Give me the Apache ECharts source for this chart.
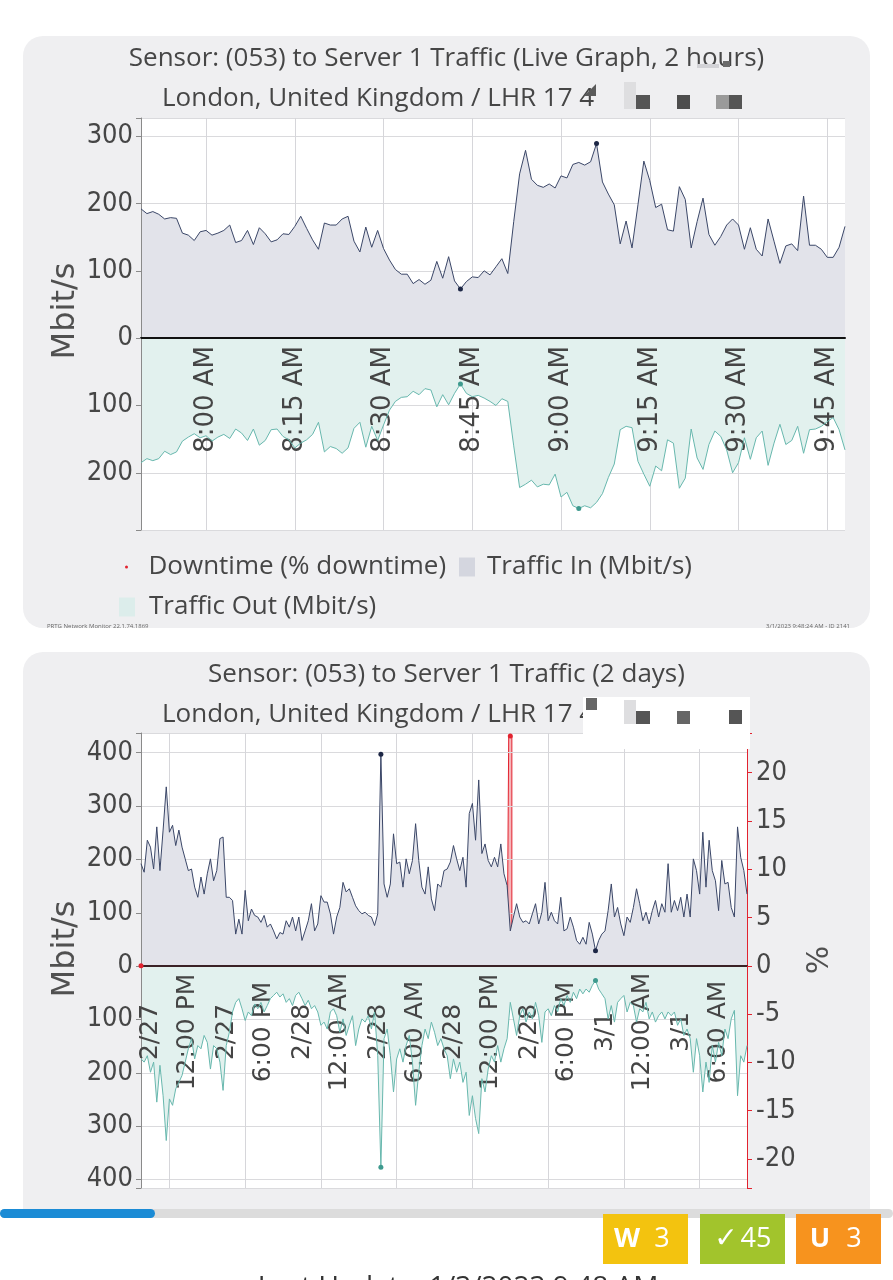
<!DOCTYPE html>
<html>
<head>
<meta charset="utf-8">
<title>Server 1 Traffic</title>
<script src="https://cdn.jsdelivr.net/npm/echarts@6/dist/echarts.min.js"></script>
<style>
html, body { margin: 0; padding: 0; background: #fff; }
#main { width: 893px; height: 1280px; }
</style>
</head>
<body>
<div id="main"></div>
<script>
// live graph: one sample per minute, 7:49 AM .. 9:48 AM (Mbit/s)
var liveIn = [
  192,185,188,184,177,179,178,156,153,145,
  158,160,153,156,160,168,142,145,160,139,
  164,155,143,146,155,154,166,181,163,146,
  132,171,168,168,177,181,144,128,165,135,
  160,133,116,102,95,95,81,87,80,86,
  114,89,121,85,73,84,91,90,100,94,
  106,118,96,173,244,279,236,227,224,229,
  223,241,238,258,261,257,262,289,232,214,
  198,140,174,134,198,263,234,194,199,161,
  159,225,206,134,173,208,154,138,151,168,
  177,168,132,164,132,122,177,144,111,137,
  140,130,211,138,138,132,120,120,135,166
];
var liveOut = [
  185,179,182,179,168,173,169,153,147,142,
  148,145,153,147,143,149,135,141,152,135,
  159,152,136,135,146,151,163,156,151,143,
  125,169,161,164,171,163,134,125,162,131,
  152,129,107,94,88,87,79,84,75,77,
  102,84,99,82,68,82,87,85,89,94,
  100,90,94,160,222,217,211,221,217,218,
  202,236,229,249,253,249,252,244,231,207,
  187,136,131,133,183,202,220,190,197,151,
  156,223,208,135,178,195,158,138,146,166,
  200,185,148,180,148,138,189,156,128,158,
  152,131,171,136,135,131,124,118,136,166
];

// 2 days graph: 15 minute averages, 2/27 9:45 AM .. 3/1 9:45 AM
var dayIn = [
  192,176,236,223,182,261,179,255,336,251,
  264,226,255,223,201,179,182,148,129,167,
  135,173,201,160,179,239,242,129,129,123,
  60,88,60,142,85,107,95,92,82,95,
  73,79,66,51,63,60,85,73,92,66,
  92,48,66,85,117,66,79,132,120,120,
  98,60,92,110,157,139,145,129,113,104,
  98,101,95,92,76,98,397,154,129,154,
  248,192,195,148,201,173,198,267,198,148,
  135,186,126,104,154,148,179,182,195,226,
  201,179,204,148,286,305,236,349,211,229,
  198,186,204,186,229,173,151,66,92,117,
  92,82,85,79,98,117,79,101,157,85,
  101,85,79,129,66,70,92,73,48,41,
  54,41,82,60,29,48,60,66,104,154,
  92,110,79,57,92,82,110,145,117,85,
  101,79,104,123,92,117,101,192,101,123,
  104,129,92,135,92,201,179,135,251,148,
  236,179,160,104,198,154,157,110,92,261,
  204,179,135
];
var dayOut = [
  174,180,168,199,180,255,186,243,327,249,
  261,230,218,205,180,155,136,174,149,155,
  130,143,193,149,155,180,233,149,124,86,
  68,61,80,102,86,93,71,80,68,86,
  74,61,55,49,58,52,68,61,74,55,
  49,61,74,64,80,74,86,111,105,118,
  86,80,93,124,99,130,111,93,149,118,
  99,105,93,118,86,168,377,136,118,168,
  236,174,155,180,149,130,180,261,199,149,
  118,136,105,124,149,136,155,168,211,174,
  199,180,218,199,280,243,286,314,211,236,
  193,168,180,149,180,155,136,68,99,130,
  93,80,105,86,99,68,93,143,86,80,
  93,74,86,61,74,55,68,49,61,43,
  52,43,49,36,27,43,52,61,99,74,
  105,68,61,55,86,68,74,105,80,86,
  68,99,86,105,93,86,99,86,93,86,
  111,99,130,118,136,199,136,168,236,180,
  218,149,180,143,168,118,136,99,83,243,
  168,180,149
];
// downtime in %
var dayDowntime = [
  0,0,0,0,0,0,0,0,0,0,
  0,0,0,0,0,0,0,0,0,0,
  0,0,0,0,0,0,0,0,0,0,
  0,0,0,0,0,0,0,0,0,0,
  0,0,0,0,0,0,0,0,0,0,
  0,0,0,0,0,0,0,0,0,0,
  0,0,0,0,0,0,0,0,0,0,
  0,0,0,0,0,0,0,0,0,0,
  0,0,0,0,0,0,0,0,0,0,
  0,0,0,0,0,0,0,0,0,0,
  0,0,0,0,0,0,0,0,0,0,
  0,0,0,0,0,0,0,23.8,0,0,
  0,0,0,0,0,0,0,0,0,0,
  0,0,0,0,0,0,0,0,0,0,
  0,0,0,0,0,0,0,0,0,0,
  0,0,0,0,0,0,0,0,0,0,
  0,0,0,0,0,0,0,0,0,0,
  0,0,0,0,0,0,0,0,0,0,
  0,0,0,0,0,0,0,0,0,0,
  0,0,0
];

// time categories
function fmtTime(d) {
  var h = d.getHours(), m = d.getMinutes();
  var ap = h < 12 ? 'AM' : 'PM';
  var hh = h % 12 === 0 ? 12 : h % 12;
  return hh + ':' + (m < 10 ? '0' : '') + m + ' ' + ap;
}
var liveDates = [], liveTimes = [];
for (var i = 0; i < liveIn.length; i++) {
  var d = new Date(2023, 2, 1, 7, 49 + i);
  liveDates.push(d);
  liveTimes.push(fmtTime(d));
}
var dayDates = [], dayTimes = [];
for (var j = 0; j < dayIn.length; j++) {
  var dd = new Date(2023, 1, 27, 9, 45 + j * 15);
  dayDates.push(dd);
  dayTimes.push((dd.getMonth() + 1) + '/' + dd.getDate() + '\n' + fmtTime(dd));
}

var neg = function (v) { return -v; };
var liveTick = function (idx) { return liveDates[idx].getMinutes() % 15 === 0; };
var dayTick = function (idx) { return dayDates[idx].getMinutes() === 0 && dayDates[idx].getHours() % 6 === 0; };

var panel = '#efeff1';
var inLine = '#3b4768', inArea = '#e2e3ea';
var outLine = '#68b8ae', outArea = '#e2f1ee';
var red = '#e2232f';
var txt = '#464646';
var sans = "'Open Sans', sans-serif";
var narrow = "'DejaVu Sans Condensed', sans-serif";
var tick = "'DejaVu Sans', Verdana, sans-serif";

function dots(color) {
  return {
    symbol: 'circle', symbolSize: 5, silent: true,
    label: { show: false },
    itemStyle: { color: color },
    data: [{ type: 'max' }, { type: 'min' }]
  };
}
function leftAxis(grid, min, max, split) {
  return {
    type: 'value', gridIndex: grid, min: min, max: max, splitNumber: split, z: 3,
    showMinLabel: false, showMaxLabel: false,
    axisLine: { show: true, lineStyle: { color: '#8a8a8a', width: 1 } },
    axisTick: { show: true, length: 5, lineStyle: { color: '#8a8a8a' } },
    axisLabel: {
      fontFamily: narrow, fontSize: 27, color: txt, margin: 8,
      formatter: function (v) { return v % 100 === 0 ? String(Math.abs(v)) : ''; }
    },
    splitLine: { lineStyle: { color: '#dadadd', width: 1 } }
  };
}
var titleStyle = { fontFamily: sans, fontSize: 26, fontWeight: 'normal', color: txt, lineHeight: 36 };
var legendText = { fontFamily: sans, fontSize: 26, color: txt, lineHeight: 30 };

var myChart = echarts.init(document.getElementById('main'));

var option = {
  backgroundColor: '#fff',
  animation: false,
  title: [
    { text: 'Sensor: (053) to Server 1 Traffic (Live Graph, 2 hours)', left: 'center', top: 36, textStyle: titleStyle },
    { text: 'London, United Kingdom / LHR 17 4', left: 157, top: 76, textStyle: titleStyle },
    { text: 'Sensor: (053) to Server 1 Traffic (2 days)', left: 'center', top: 652, textStyle: titleStyle },
    { text: 'London, United Kingdom / LHR 17 4', left: 157, top: 692, textStyle: titleStyle }
  ],
  legend: [
    { data: [{ name: 'Downtime (% downtime)', icon: 'circle' }], left: 120, top: 547,
      itemWidth: 34, itemHeight: 3, selectedMode: false, textStyle: legendText },
    { data: [{ name: 'Traffic In (Mbit/s)', icon: 'rect', itemStyle: { color: '#d4d6df' } }], left: 454, top: 547,
      itemWidth: 16, itemHeight: 19, selectedMode: false,
      textStyle: Object.assign({ padding: [0, 0, 0, 7] }, legendText) },
    { data: [{ name: 'Traffic Out (Mbit/s)', icon: 'rect', itemStyle: { color: '#dcedeb' } }], left: 114, top: 587,
      itemWidth: 16, itemHeight: 19, selectedMode: false,
      textStyle: Object.assign({ padding: [0, 0, 0, 9] }, legendText) }
  ],
  grid: [
    { left: 141, top: 118, width: 704, height: 412, show: true, backgroundColor: '#fff', borderWidth: 0, outerBoundsMode: 'none' },
    { left: 141, top: 733, width: 606, height: 455, show: true, backgroundColor: '#fff', borderWidth: 0, outerBoundsMode: 'none' }
  ],
  xAxis: [
    // labels hang just under the zero line
    { type: 'category', gridIndex: 0, data: liveTimes, boundaryGap: false, z: 3,
      axisLine: { onZero: true, lineStyle: { color: '#111', width: 2 } },
      axisTick: { show: false },
      axisLabel: { interval: liveTick, rotate: 90, margin: -184, fontFamily: tick, fontSize: 26, color: '#454545' },
      splitLine: { show: true, interval: liveTick, lineStyle: { color: '#d6d6da' } } },
    { type: 'category', gridIndex: 1, data: dayTimes, boundaryGap: false, z: 3,
      axisLine: { onZero: true, lineStyle: { color: '#3a2226', width: 2 } },
      axisTick: { show: false },
      axisLabel: { interval: dayTick, rotate: 90, align: 'center', margin: -156, lineHeight: 37,
        fontFamily: tick, fontSize: 25, color: '#454545' },
      splitLine: { show: true, interval: dayTick, lineStyle: { color: '#d6d6da' } } }
  ],
  yAxis: [
    leftAxis(0, -285, 327, 6),
    leftAxis(1, -416, 437, 8),
    { type: 'value', gridIndex: 1, position: 'right', min: -23, max: 24.1, splitNumber: 9, z: 3,
      showMinLabel: false, showMaxLabel: false,
      axisLine: { show: true, lineStyle: { color: red, width: 1 } },
      axisTick: { show: true, length: 5, lineStyle: { color: red } },
      axisLabel: { fontFamily: narrow, fontSize: 27, color: txt, margin: 9,
        formatter: function (v) { return v % 5 === 0 ? String(v) : ''; } },
      splitLine: { show: false } }
  ],
  series: [
    { name: 'Traffic In (Mbit/s)', type: 'line', xAxisIndex: 0, yAxisIndex: 0, data: liveIn,
      symbol: 'none', lineStyle: { color: inLine, width: 1 }, itemStyle: { color: inLine },
      areaStyle: { color: inArea, opacity: 1 }, markPoint: dots('#1d2746') },
    { name: 'Traffic Out (Mbit/s)', type: 'line', xAxisIndex: 0, yAxisIndex: 0, data: liveOut.map(neg),
      symbol: 'none', lineStyle: { color: outLine, width: 1 }, itemStyle: { color: outLine },
      areaStyle: { color: outArea, opacity: 1 }, markPoint: dots('#3e9a8e') },
    { name: 'Traffic In (Mbit/s)', type: 'line', xAxisIndex: 1, yAxisIndex: 1, data: dayIn,
      symbol: 'none', lineStyle: { color: inLine, width: 1 }, itemStyle: { color: inLine },
      areaStyle: { color: inArea, opacity: 1 }, markPoint: dots('#1d2746') },
    { name: 'Traffic Out (Mbit/s)', type: 'line', xAxisIndex: 1, yAxisIndex: 1, data: dayOut.map(neg),
      symbol: 'none', lineStyle: { color: outLine, width: 1 }, itemStyle: { color: outLine },
      areaStyle: { color: outArea, opacity: 1 }, markPoint: dots('#3e9a8e') },
    { name: 'Downtime (% downtime)', type: 'line', xAxisIndex: 1, yAxisIndex: 2, data: dayDowntime, z: 2,
      step: 'middle', symbol: 'none', lineStyle: { color: red, width: 1 }, itemStyle: { color: red },
      areaStyle: { color: '#f4a3a8', opacity: 0.8 }, markPoint: dots(red) }
  ],
  graphic: [
    // panels
    { type: 'rect', z: -10, shape: { x: 23, y: 36, width: 847, height: 592, r: 20 }, style: { fill: panel } },
    { type: 'rect', z: -10, shape: { x: 23, y: 652, width: 847, height: 557, r: [20, 20, 0, 0] }, style: { fill: panel } },
    // axis names
    { type: 'text', z: 5, x: 66, y: 311, rotation: Math.PI / 2,
      style: { text: 'Mbit/s', fontFamily: tick, fontSize: 32, fill: '#505050', textAlign: 'center', textVerticalAlign: 'middle' } },
    { type: 'text', z: 5, x: 66, y: 949, rotation: Math.PI / 2,
      style: { text: 'Mbit/s', fontFamily: tick, fontSize: 32, fill: '#505050', textAlign: 'center', textVerticalAlign: 'middle' } },
    { type: 'text', z: 5, x: 820, y: 960, rotation: Math.PI / 2,
      style: { text: '%', fontFamily: tick, fontSize: 30, fill: '#505050', textAlign: 'center', textVerticalAlign: 'middle' } },
    // footers
    { type: 'text', z: 5, x: 47, y: 626,
      style: { text: 'PRTG Network Monitor 22.1.74.1869', fontFamily: sans, fontSize: 6, fill: '#666', textVerticalAlign: 'middle' } },
    { type: 'text', z: 5, x: 850, y: 626,
      style: { text: '3/1/2023 9:48:24 AM - ID 2141', fontFamily: sans, fontSize: 6, fill: '#666', textAlign: 'right', textVerticalAlign: 'middle' } },
    // blurred bits of the title lines
    { type: 'rect', z: 20, shape: { x: 697, y: 64, width: 22, height: 4 }, style: { fill: '#d2d2d6' } },
    { type: 'rect', z: 20, shape: { x: 723, y: 61, width: 7, height: 6 }, style: { fill: '#6a6a6a' } },
    { type: 'polygon', z: 20, shape: { points: [[584, 96], [596, 84], [596, 96]] }, style: { fill: '#5a5a5a' } },
    { type: 'rect', z: 20, shape: { x: 624, y: 82, width: 12, height: 27 }, style: { fill: '#dedee0' } },
    { type: 'rect', z: 20, shape: { x: 636, y: 95, width: 14, height: 14 }, style: { fill: '#555' } },
    { type: 'rect', z: 20, shape: { x: 677, y: 95, width: 13, height: 14 }, style: { fill: '#4d4d4d' } },
    { type: 'rect', z: 20, shape: { x: 716, y: 95, width: 13, height: 14 }, style: { fill: '#9a9a9a' } },
    { type: 'rect', z: 20, shape: { x: 729, y: 95, width: 13, height: 14 }, style: { fill: '#555' } },
    { type: 'rect', z: 20, shape: { x: 583, y: 697, width: 167, height: 52 }, style: { fill: '#fff' } },
    { type: 'rect', z: 21, shape: { x: 586, y: 698, width: 11, height: 12 }, style: { fill: '#666' } },
    { type: 'rect', z: 21, shape: { x: 624, y: 700, width: 12, height: 24 }, style: { fill: '#dedee0' } },
    { type: 'rect', z: 21, shape: { x: 636, y: 711, width: 14, height: 13 }, style: { fill: '#555' } },
    { type: 'rect', z: 21, shape: { x: 677, y: 711, width: 13, height: 13 }, style: { fill: '#666' } },
    { type: 'rect', z: 21, shape: { x: 729, y: 710, width: 13, height: 14 }, style: { fill: '#555' } },
    // progress bar
    { type: 'rect', z: 5, shape: { x: 0, y: 1209, width: 893, height: 9, r: 4.5 }, style: { fill: '#dcdcdc' } },
    { type: 'rect', z: 6, shape: { x: 0, y: 1209, width: 155, height: 9, r: 4.5 }, style: { fill: '#1b8bd5' } },
    // status badges
    { type: 'rect', z: 5, shape: { x: 603, y: 1214, width: 85, height: 50 }, style: { fill: '#f3c30f' } },
    { type: 'text', z: 6, x: 627, y: 1239, style: { text: 'W', fontFamily: sans, fontWeight: 'bold', fontSize: 27, fill: '#fff', textAlign: 'center', textVerticalAlign: 'middle' } },
    { type: 'text', z: 6, x: 662, y: 1239, style: { text: '3', fontFamily: sans, fontSize: 27, fill: '#fff', textAlign: 'center', textVerticalAlign: 'middle' } },
    { type: 'rect', z: 5, shape: { x: 700, y: 1214, width: 85, height: 50 }, style: { fill: '#a2c42c' } },
    { type: 'text', z: 6, x: 726, y: 1240, style: { text: '\u2713', fontFamily: tick, fontSize: 28, fill: '#fff', textAlign: 'center', textVerticalAlign: 'middle' } },
    { type: 'text', z: 6, x: 756, y: 1239, style: { text: '45', fontFamily: sans, fontSize: 27, fill: '#fff', textAlign: 'center', textVerticalAlign: 'middle' } },
    { type: 'rect', z: 5, shape: { x: 796, y: 1214, width: 85, height: 50 }, style: { fill: '#f7931e' } },
    { type: 'text', z: 6, x: 820, y: 1239, style: { text: 'U', fontFamily: sans, fontWeight: 'bold', fontSize: 27, fill: '#fff', textAlign: 'center', textVerticalAlign: 'middle' } },
    { type: 'text', z: 6, x: 854, y: 1239, style: { text: '3', fontFamily: sans, fontSize: 27, fill: '#fff', textAlign: 'center', textVerticalAlign: 'middle' } },
    // last update line, cut off by the screen edge
    { type: 'text', z: 5, x: 458, y: 1274, style: { text: 'Last Update: 1/3/2023 9:48 AM', fontFamily: sans, fontSize: 28, fill: '#333', textAlign: 'center', textVerticalAlign: 'top' } }
  ]
};

myChart.setOption(option);
</script>
</body>
</html>
